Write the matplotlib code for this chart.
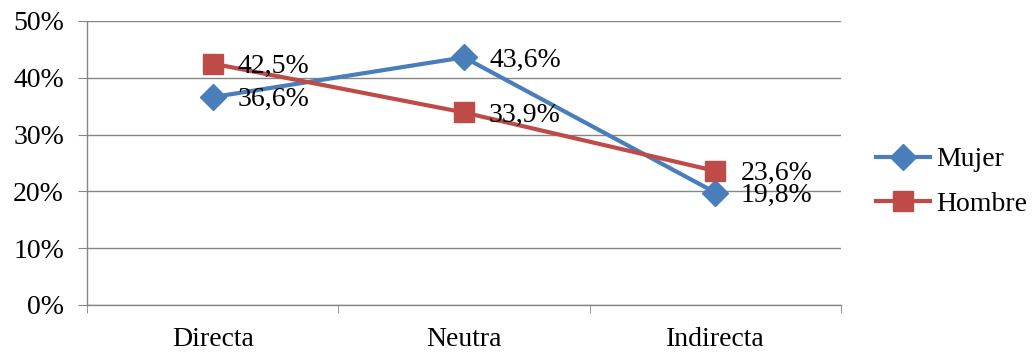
import matplotlib
matplotlib.use("Agg")
import matplotlib.pyplot as plt
from matplotlib.ticker import FuncFormatter

categories = ["Directa", "Neutra", "Indirecta"]
mujer = [36.6, 43.6, 19.8]
hombre = [42.5, 33.9, 23.6]
series_names = ["Mujer", "Hombre"]
yticks = [0, 10, 20, 30, 40, 50]

plt.rcParams["font.family"] = ["Liberation Serif", "DejaVu Serif"]
FS = 20

BLUE = "#4A7EBB"
RED = "#BE4B48"
GRID = "#868686"

fig = plt.figure(figsize=(10.32, 3.54), dpi=100)
ax = fig.add_axes([87 / 1032, 1 - 305 / 354, (841 - 87) / 1032, (305 - 21) / 354])

x = list(range(len(categories)))
ax.plot(x, mujer, color=BLUE, lw=3, marker="D", ms=13, label=series_names[0], zorder=3)
ax.plot(x, hombre, color=RED, lw=3, marker="s", ms=14.5, label=series_names[1], zorder=3)

def fmt(v):
    return f"{v:.1f}%".replace(".", ",")

for vals in (mujer, hombre):
    for xi, v in zip(x, vals):
        ax.annotate(fmt(v), (xi, v), xytext=(18, -2), textcoords="offset points",
                    ha="left", va="center", fontsize=FS, color="black", zorder=4)

ax.set_xlim(-0.5, 2.5)
ax.set_ylim(0, 50)
ax.set_yticks(yticks)
ax.yaxis.set_major_formatter(FuncFormatter(lambda v, p: f"{int(v)}%"))
ax.set_xticks(x)
ax.set_xticklabels(categories)
ax.set_xticks([-0.5, 0.5, 1.5, 2.5], minor=True)

ax.grid(axis="y", color=GRID, lw=1)
ax.set_axisbelow(True)
for s in ("top", "right"):
    ax.spines[s].set_visible(False)
for s in ("left", "bottom"):
    ax.spines[s].set_color(GRID)
    ax.spines[s].set_linewidth(1)

ax.tick_params(axis="y", direction="out", length=6.5, color=GRID, labelsize=FS, pad=10)
ax.tick_params(axis="x", which="major", length=0, labelsize=FS, pad=16)
ax.tick_params(axis="x", which="minor", direction="out", length=6, color=GRID)

fig.legend(loc="center left", bbox_to_anchor=(876 / 1032, 1 - 182 / 354), frameon=False,
           fontsize=FS, handlelength=1.95, handletextpad=0.2, labelspacing=0.7,
           borderaxespad=0, borderpad=0)

fig.savefig("out.png", dpi=100)
